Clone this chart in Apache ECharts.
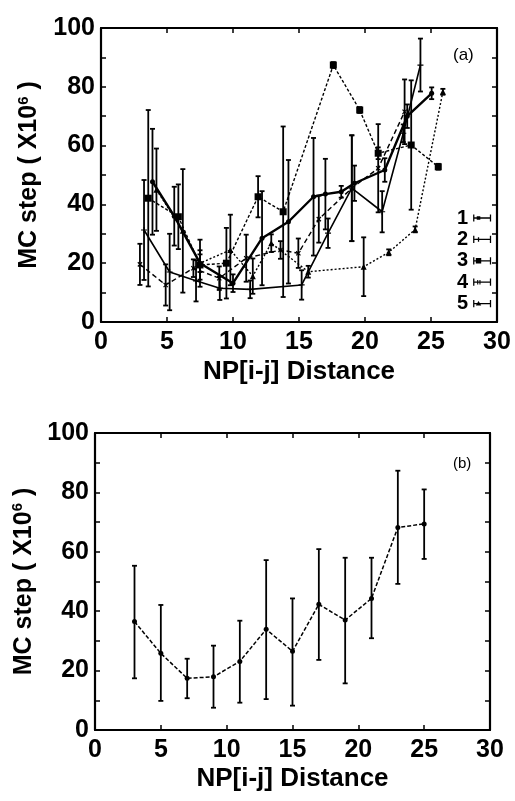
<!DOCTYPE html>
<html><head><meta charset="utf-8">
<script src="https://cdn.jsdelivr.net/npm/echarts@6/dist/echarts.min.js"></script>
<style>html,body{margin:0;padding:0;background:#fff}#c{width:515px;height:801px}</style>
</head><body><div id="c"></div>
<script>
const FONT = "'Liberation Sans', Arial, Helvetica, sans-serif";

// ---- Panel (a): five runs (x = NP distance, y = MC step x1e6, e = half error bar)
const legendNames = ['1', '2', '3', '4', '5'];
const s1x = [3.9, 5.55, 7.5, 10.0, 12.2, 14.2, 16.1, 17.0, 18.2, 19.2, 21.5, 23.2, 25.05];
const s1y = [47.7, 36, 20, 13.2, 28.5, 34.1, 42.6, 43.5, 44.3, 47.2, 51.7, 70, 77.8];
const s1e = [18, 10, 8, 3, 16, 21, 20, 12, 2, 6, 4, 4, 2];
const s2x = [3.26, 5.2, 7.2, 9.0, 11.3, 15.2, 17.2, 19.0, 21.3, 22.9, 24.2];
const s2y = [31.3, 17, 14, 11.5, 11.1, 12.6, 30.2, 45.5, 37.5, 64.2, 87.4];
const s2e = [17, 13, 7, 4, 3, 5, 5, 18, 7, 3, 9];
const s3x = [3.58, 5.86, 7.5, 9.5, 11.9, 13.8, 17.6, 19.6, 21.0, 23.5, 25.55];
const s3y = [42.1, 35.8, 19.4, 20, 42.6, 37.5, 87.4, 72.1, 57.4, 60.2, 52.8];
const s3e = [30, 11, 5, 12, 7, 29, 1, 1, 2, 22, 1];
const s4x = [2.95, 4.9, 7.0, 8.96, 11.0, 13.6, 14.95, 16.5, 19.0, 21.0, 23.0];
const s4y = [19.6, 12.6, 18.3, 14.9, 21.7, 24.5, 23.4, 35, 45.5, 52.3, 71.5];
const s4e = [7, 7, 3, 4, 8, 3, 5, 8, 18, 15, 11];
const s5x = [4.2, 6.2, 7.5, 9.8, 11.5, 12.9, 15.7, 19.9, 21.8, 23.8, 25.9];
const s5y = [45, 31, 20, 24.5, 15.6, 26.8, 17.1, 18.8, 23.7, 31.5, 78.3];
const s5e = [14, 21, 3, 12, 6, 3, 2, 10, 1, 1, 1];

// ---- Panel (b): average
const bx = [3, 5, 7, 9, 11, 13, 15, 17, 19, 21, 23, 25];
const by = [36.5, 25.8, 17.4, 17.9, 23.1, 33.9, 26.5, 42.3, 37.0, 44.3, 68.2, 69.4];
const bLow = [17.4, 9.8, 10.7, 7.5, 9.2, 10.4, 8.2, 23.6, 15.7, 30.9, 49.2, 57.6];
const bHigh = [55.3, 42.1, 24.0, 28.4, 36.8, 57.2, 44.3, 60.9, 58.0, 58.0, 87.3, 81.0];

// ---- axis ticks
const xMin = 0, xMax = 30, xStep = 5;
const yMin = 0, yMax = 100, yStep = 10, yLabelStep = 20;
const xTitle = 'NP[i-j] Distance';

const runs = [
  {x: s1x, y: s1y, e: s1e, symbol: 'circle', size: 5, width: 2.4, type: 'solid'},
  {x: s2x, y: s2y, e: s2e, symbol: 'path://M0,4h10v2h-10z M4,0h2v10h-2z', size: 6, width: 1.6, type: 'solid'},
  {x: s3x, y: s3y, e: s3e, symbol: 'rect', size: 7, width: 1.4, type: [3, 2]},
  {x: s4x, y: s4y, e: s4e, symbol: 'path://M0,4h10v2h-10z M4,0h2v10h-2z', size: 6, width: 1.4, type: [5, 3], rotate: 45},
  {x: s5x, y: s5y, e: s5e, symbol: 'triangle', size: 6, width: 1.4, type: [2, 2]}
];

function errRender(capHalf, lw) {
  return function (params, api) {
    const x = api.value(0), lo = api.value(1), hi = api.value(2);
    const p1 = api.coord([x, hi]);
    const p2 = api.coord([x, lo]);
    const st = {stroke: '#000', lineWidth: lw};
    return {
      type: 'group',
      children: [
        {type: 'line', shape: {x1: p1[0], y1: p1[1], x2: p2[0], y2: p2[1]}, style: st},
        {type: 'line', shape: {x1: p1[0] - capHalf, y1: p1[1], x2: p1[0] + capHalf, y2: p1[1]}, style: st},
        {type: 'line', shape: {x1: p2[0] - capHalf, y1: p2[1], x2: p2[0] + capHalf, y2: p2[1]}, style: st}
      ]
    };
  };
}

function xAxes(gi, gap) {
  const common = {
    gridIndex: gi, type: 'value', min: xMin, max: xMax, interval: xStep,
    axisLine: {show: true, onZero: false, lineStyle: {color: '#000', width: 2.2}},
    axisTick: {show: true, inside: true, length: 5, lineStyle: {color: '#000', width: 1.5}},
    splitLine: {show: false}
  };
  return [
    Object.assign({}, common, {
      position: 'bottom',
      axisLabel: {color: '#000', fontSize: 25, fontWeight: 'bold', fontFamily: FONT, margin: 8},
      name: xTitle, nameLocation: 'middle', nameGap: gap,
      nameTextStyle: {color: '#000', fontSize: 26, fontWeight: 'bold', fontFamily: FONT}
    }),
    Object.assign({}, common, {position: 'top', axisLabel: {show: false}})
  ];
}
function yAxes(gi, gap) {
  const common = {
    gridIndex: gi, type: 'value', min: yMin, max: yMax, interval: yStep,
    axisLine: {show: true, onZero: false, lineStyle: {color: '#000', width: 2.2}},
    axisTick: {show: true, inside: true, length: 5, lineStyle: {color: '#000', width: 1.5}},
    splitLine: {show: false}
  };
  return [
    Object.assign({}, common, {
      position: 'left',
      axisLabel: {color: '#000', fontSize: 25, fontWeight: 'bold', fontFamily: FONT, margin: 6,
        formatter: v => (v % yLabelStep === 0 ? String(v) : '')},
      name: '{a|MC step ( X10}{s|6}{a| )}', nameLocation: 'middle', nameGap: gap,
      nameTextStyle: {color: '#000', fontFamily: FONT,
        rich: {a: {fontSize: 25, fontWeight: 'bold', fontFamily: FONT, color: '#000'},
               s: {fontSize: 15, fontWeight: 'bold', fontFamily: FONT, color: '#000', verticalAlign: 'top', padding: [0, 0, 12, 0]}}}
    }),
    Object.assign({}, common, {position: 'right', axisLabel: {show: false}})
  ];
}

const series = [];
runs.forEach((r, i) => {
  series.push({
    name: legendNames[i], type: 'line', xAxisIndex: 0, yAxisIndex: 0,
    data: r.x.map((v, k) => [v, r.y[k]]),
    symbol: r.symbol, symbolSize: r.size, symbolRotate: r.rotate || 0, showSymbol: true,
    lineStyle: {color: '#000', width: r.width, type: r.type},
    itemStyle: {color: '#000'}, z: 3, animation: false
  });
  series.push({
    name: 'err' + i, type: 'custom', xAxisIndex: 0, yAxisIndex: 0,
    renderItem: errRender(2.5, 1.8),
    encode: {x: 0, y: [1, 2]},
    data: r.x.map((v, k) => [v, r.y[k] - r.e[k], r.y[k] + r.e[k]]),
    z: 2, animation: false
  });
});
series.push({
  name: 'avg', type: 'line', xAxisIndex: 2, yAxisIndex: 2,
  data: bx.map((v, k) => [v, by[k]]),
  symbol: 'circle', symbolSize: 5,
  lineStyle: {color: '#000', width: 1.5, type: [4, 2]},
  itemStyle: {color: '#000'}, z: 3, animation: false
});
series.push({
  name: 'avgErr', type: 'custom', xAxisIndex: 2, yAxisIndex: 2,
  renderItem: errRender(2.5, 1.8),
  encode: {x: 0, y: [1, 2]},
  data: bx.map((v, k) => [v, bLow[k], bHigh[k]]),
  z: 2, animation: false
});

const icons = [
  'path://M0,4.3h20v1.4h-20z M0,1h1.4v8h-1.4z M18.6,1h1.4v8h-1.4z M4,3h4v4h-4z',
  'path://M0,4.3h20v1.4h-20z M0,1h1.4v8h-1.4z M18.6,1h1.4v8h-1.4z M5.3,2.5h1.4v5h-1.4z',
  'path://M0,4.3h20v1.4h-20z M0,1h1.4v8h-1.4z M18.6,1h1.4v8h-1.4z M3,2h6v6h-6z',
  'path://M0,4.3h20v1.4h-20z M0,1h1.4v8h-1.4z M18.6,1h1.4v8h-1.4z M4.5,2.5h1.2v5h-1.2z M7,2.5h1.2v5h-1.2z',
  'path://M0,4.3h20v1.4h-20z M0,1h1.4v8h-1.4z M18.6,1h1.4v8h-1.4z M6,2l3,5h-6z'
];

const chart = echarts.init(document.getElementById('c'), null, {renderer: 'canvas'});
chart.setOption({
  backgroundColor: '#fff',
  animation: false,
  grid: [
    {left: 101, top: 28, width: 396, height: 294},
    {left: 95, top: 433, width: 395, height: 297}
  ],
  xAxis: xAxes(0, 37).concat(xAxes(1, 36)),
  yAxis: yAxes(0, 58).concat(yAxes(1, 55)),
  legend: {
    data: legendNames.map((n, i) => ({name: n, icon: icons[i]})),
    orient: 'vertical', left: 452, top: 203, align: 'right',
    itemWidth: 18, itemHeight: 9, itemGap: 1.4,
    textStyle: {color: '#000', fontSize: 20, fontWeight: 'bold', fontFamily: FONT, lineHeight: 20},
    selectedMode: false, inactiveColor: '#000'
  },
  graphic: [
    {type: 'text', left: 453, top: 47, style: {text: '(a)', fontSize: 17, fontFamily: FONT, fill: '#000'}},
    {type: 'text', left: 453, top: 456, style: {text: '(b)', fontSize: 15, fontFamily: FONT, fill: '#000'}}
  ],
  series: series
});
</script></body></html>
